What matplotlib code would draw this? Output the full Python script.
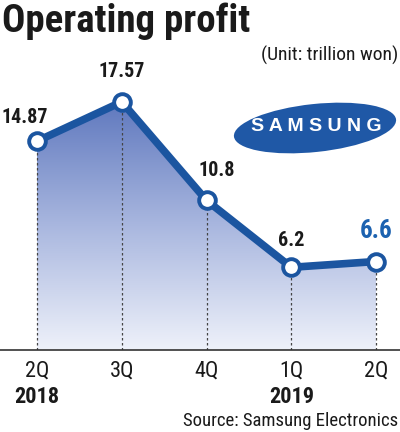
import matplotlib
matplotlib.use("Agg")
import matplotlib.pyplot as plt
from matplotlib import font_manager as fm
import numpy as np
from matplotlib.patches import Ellipse
from matplotlib.colors import LinearSegmentedColormap

quarters = ["2Q", "3Q", "4Q", "1Q", "2Q"]
years = ["2018", "", "", "2019", ""]
profit = [14.87, 17.57, 10.8, 6.2, 6.6]
value_labels = ["14.87", "17.57", "10.8", "6.2", "6.6"]

names = sorted({f.name for f in fm.fontManager.ttflist})
narrow = [n for n in names if ("Narrow" in n or "Condensed" in n)]
pref = ["Liberation Sans Narrow", "Roboto Condensed", "DejaVu Sans Condensed",
        "Open Sans Condensed"]
chosen = [n for n in pref if n in names] + [n for n in narrow if n not in pref]
FONT = chosen + ["Liberation Sans", "DejaVu Sans"]
plt.rcParams["font.family"] = FONT
plt.rcParams["font.stretch"] = "condensed"

LINE = "#1b55a0"
fig = plt.figure(figsize=(4.0, 4.32), dpi=100)
fig.patch.set_facecolor("white")

ax = fig.add_axes([0, 82 / 432, 1, 270 / 432])
x = np.arange(len(profit))
ax.set_xlim(-0.437, 4.283)
ax.set_ylim(0.52, 19.07)
for s in ["top", "right", "left"]:
    ax.spines[s].set_visible(False)
ax.spines["bottom"].set_color("#333333")
ax.spines["bottom"].set_linewidth(1.2)
ax.set_yticks([])
ax.set_xticks([])
ax.set_facecolor("none")

ylo = ax.get_ylim()[0]
poly = ax.fill_between(x, profit, ylo, color="none", lw=0)
cmap = LinearSegmentedColormap.from_list("g", ["#eef1fa", "#a9b7df", "#5f78be"])
grad = np.linspace(0, 1, 256).reshape(-1, 1)
im = ax.imshow(grad, cmap=cmap, aspect="auto", origin="lower",
               extent=[x[0], x[-1], ylo, max(profit)], zorder=1)
im.set_clip_path(poly.get_paths()[0], transform=ax.transData)

ax.vlines(x, ylo, profit, colors="#444444", linestyles=(0, (2, 2)), lw=0.9, zorder=2)

ax.plot(x, profit, color=LINE, lw=5.5, zorder=3, solid_joinstyle="miter")
ax.plot(x, profit, "o", ms=12, mfc="white", mec=LINE, mew=2.8, zorder=4)

offs = [(-0.42, 1.0, "left"), (0, 1.45, "center"), (-0.1, 1.4, "left"),
        (0.0, 1.2, "center"), (0, 1.3, "center")]
for i, (v, t) in enumerate(zip(profit, value_labels)):
    dx, dy, ha = offs[i]
    if i == len(profit) - 1:
        ax.text(x[i] + dx, v + dy, t, ha=ha, va="bottom", fontsize=18,
                fontweight="bold", color="#1c62b0")
    else:
        ax.text(x[i] + dx, v + dy, t, ha=ha, va="bottom", fontsize=14.5,
                fontweight="bold", color="#1a1a1a")

for i, (q, y) in enumerate(zip(quarters, years)):
    ax.text(x[i], ylo - 0.75, q, ha="center", va="top", fontsize=16, color="#1a1a1a")
    if y:
        ax.text(x[i], ylo - 2.5, y, ha="center", va="top", fontsize=16,
                fontweight="bold", color="#1a1a1a")

fig.text(0.005, 0.995, "Operating profit", ha="left", va="top", fontsize=28,
         fontweight=900, color="#1a1a1a")
fig.text(0.995, 0.872, "(Unit: trillion won)", ha="right", va="center",
         fontsize=14, color="#1a1a1a")
fig.text(0.995, 0.025, "Source: Samsung Electronics", ha="right", va="center",
         fontsize=13.5, color="#1a1a1a")

el = Ellipse((3.15, 4.32 - 1.28), 1.63, 0.48, angle=6,
             transform=fig.dpi_scale_trans, facecolor="#1f58a6", edgecolor="none")
fig.add_artist(el)
fig.text(3.16 / 4.0, 1 - 127 / 432, "S A M S U N G", ha="center", va="center",
         fontsize=14, fontweight="bold", color="white",
         family=["Liberation Sans", "DejaVu Sans"], fontstretch="normal")

fig.savefig("out.png", dpi=100, facecolor="white")
